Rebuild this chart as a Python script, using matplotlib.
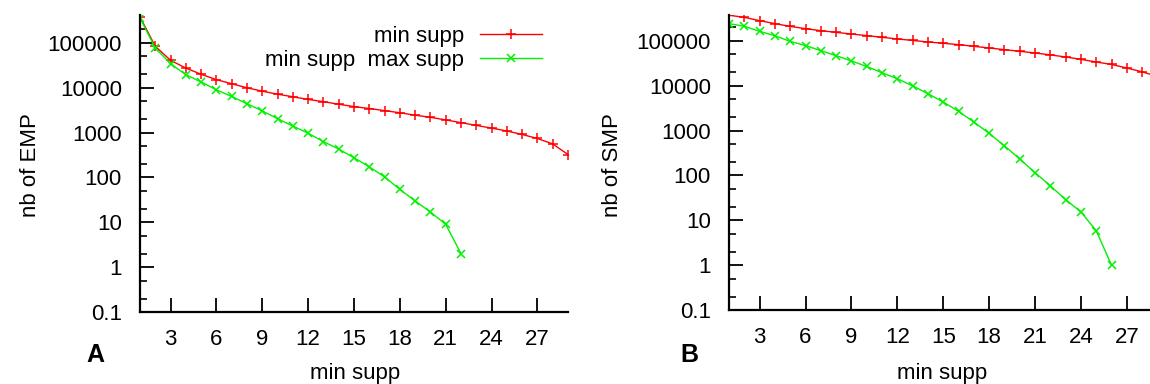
import matplotlib
matplotlib.use("Agg")
import matplotlib.pyplot as plt
from matplotlib.ticker import FixedLocator, FixedFormatter, NullFormatter

plt.rcParams['font.family'] = ['Liberation Sans', 'DejaVu Sans']

# ---- data ----
min_supp_A = list(range(1, 30))
emp_min = [380000, 84000, 41000, 27500, 20000, 15200, 12300, 10000, 8400, 7200,
           6300, 5500, 4900, 4300, 3800, 3450, 3100, 2770, 2450, 2200,
           1920, 1670, 1450, 1260, 1090, 910, 740, 560, 325]
min_supp_A2 = list(range(1, 23))
emp_minmax = [360000, 77000, 34500, 19600, 13500, 9000, 6400, 4400, 3050, 2050,
              1400, 970, 630, 430, 275, 173, 103, 54, 30, 17, 9, 2]

min_supp_B = list(range(1, 30))
smp_min = [375000, 337000, 284000, 244000, 212000, 188000, 170000, 156000, 143000, 132000,
           121000, 111000, 103000, 95000, 89000, 83000, 76000, 70000, 64000, 59000,
           54000, 49000, 44000, 39000, 34000, 30000, 25000, 20500, 16300]
min_supp_B2 = list(range(1, 27))
smp_minmax = [244000, 213000, 164000, 131000, 98000, 79000, 61000, 47000, 36000, 27000,
              19600, 14400, 10000, 6700, 4350, 2700, 1560, 870, 460, 233,
              116, 59, 29, 15.4, 5.9, 1]

yticks = [0.1, 1, 10, 100, 1000, 10000, 100000]
ytick_labels = ['0.1', '1', '10', '100', '1000', '10000', '100000']
xticks = [3, 6, 9, 12, 15, 18, 21, 24, 27]
label_min = 'min supp'
label_minmax = 'min supp  max supp'

RED = '#ff0000'
GREEN = '#00f000'
FS = 16

W, H = 1150, 384
fig = plt.figure(figsize=(W / 100, H / 100), dpi=100)


def style(ax, xmax, ytop):
    ax.set_yscale('log')
    ax.set_xlim(1, xmax)
    ax.set_ylim(0.1, ytop)
    for s in ('top', 'right'):
        ax.spines[s].set_visible(False)
    for s in ('left', 'bottom'):
        ax.spines[s].set_linewidth(1.6)
        ax.spines[s].set_color('black')
    ax.yaxis.set_major_locator(FixedLocator(yticks))
    ax.yaxis.set_major_formatter(FixedFormatter(ytick_labels))
    minors = []
    for d in yticks:
        minors += [d * 2, d * 5]
    ax.yaxis.set_minor_locator(FixedLocator(minors))
    ax.yaxis.set_minor_formatter(NullFormatter())
    ax.set_xticks(xticks)
    ax.set_xticklabels([str(v) for v in xticks])
    ax.tick_params(axis='both', which='major', direction='in', length=10, width=1.3,
                   labelsize=FS, colors='black')
    ax.tick_params(axis='y', which='major', pad=13)
    ax.tick_params(axis='x', which='major', pad=12)
    ax.tick_params(axis='y', which='minor', direction='in', length=5, width=1.2)
    ax.tick_params(axis='x', which='minor', length=0)
    ax.patch.set_alpha(0)


# Panel A
axA = fig.add_axes([140 / W, (H - 312) / H, 428 / W, (312 - 15) / H])
style(axA, 29, 4.2e5)
axA.plot(min_supp_A, emp_min, color=RED, lw=1.0, marker='+', ms=7, mew=1.1, label=label_min)
axA.plot(min_supp_A2, emp_minmax, color=GREEN, lw=1.0, marker='x', ms=6, mew=1.1, label=label_minmax)
leg = axA.legend(loc='upper right', bbox_to_anchor=(542 / W, (H - 26) / H),
                 bbox_transform=fig.transFigure, frameon=False, fontsize=FS,
                 markerfirst=False, handlelength=2.8, handletextpad=0.7,
                 labelspacing=0.12, borderpad=0, borderaxespad=0)

# Panel B
axB = fig.add_axes([729 / W, (H - 310) / H, (W - 729) / W, (310 - 15) / H])
style(axB, 1 + (W - 729) / 15.3, 3.8e5)
axB.plot(min_supp_B, smp_min, color=RED, lw=1.0, marker='+', ms=7, mew=1.1)
axB.plot(min_supp_B2, smp_minmax, color=GREEN, lw=1.0, marker='x', ms=6, mew=1.1)

# Labels
fig.text(355 / W, (H - 373) / H, 'min supp', ha='center', va='center', fontsize=FS)
fig.text(942 / W, (H - 373) / H, 'min supp', ha='center', va='center', fontsize=FS)
fig.text(31 / W, (H - 165) / H, 'nb of EMP', ha='center', va='center', rotation=90, fontsize=FS)
fig.text(612 / W, (H - 165) / H, 'nb of SMP', ha='center', va='center', rotation=90, fontsize=FS)
fig.text(95 / W, (H - 355) / H, 'A', ha='center', va='center', fontsize=FS + 2, fontweight='bold')
fig.text(689 / W, (H - 355) / H, 'B', ha='center', va='center', fontsize=FS + 2, fontweight='bold')

fig.savefig('out.png', dpi=100)
